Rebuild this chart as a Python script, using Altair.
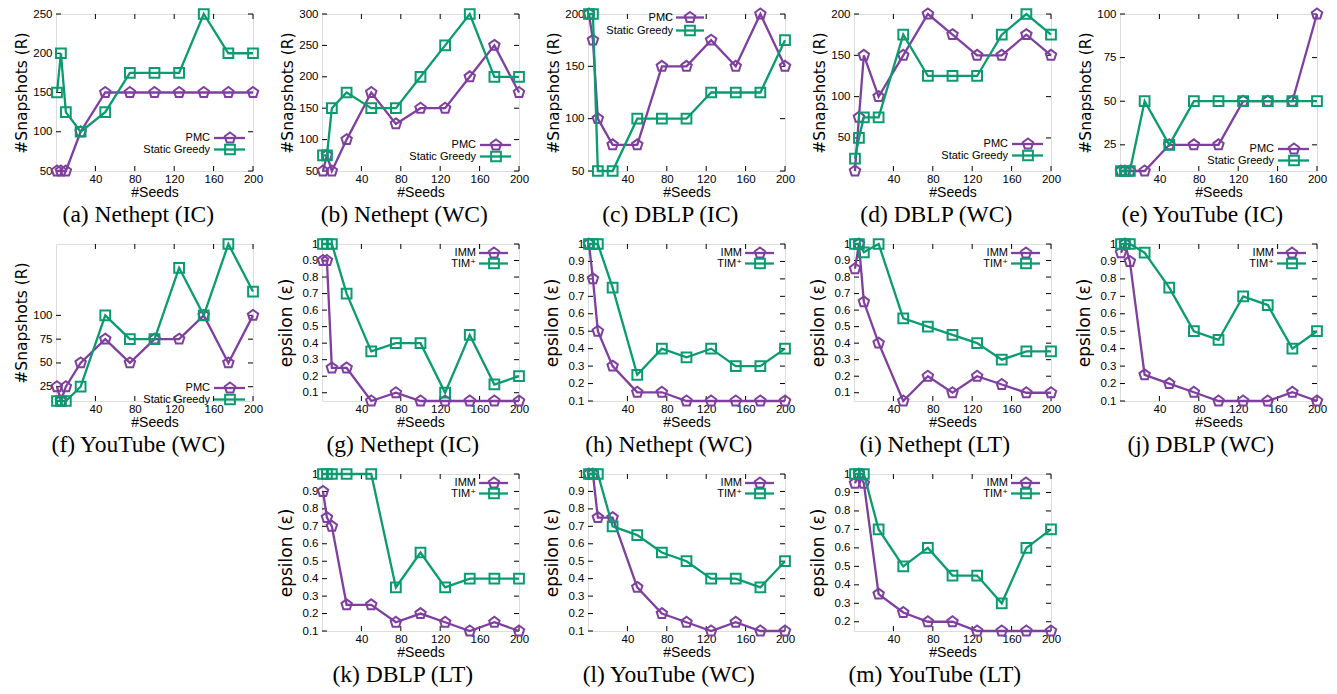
import altair as alt
import pandas as pd

# Seed counts on the x axis of every panel
seeds = [1, 5, 10, 25, 50, 75, 100, 125, 150, 175, 200]
seed_ticks = [40, 80, 120, 160, 200]

# Number of snapshots (R): PMC vs Static Greedy
pmc_a = [50, 50, 50, 100, 150, 150, 150, 150, 150, 150, 150]
sg_a = [150, 200, 125, 100, 125, 175, 175, 175, 250, 200, 200]
pmc_b = [50, 75, 50, 100, 175, 125, 150, 150, 200, 250, 175]
sg_b = [75, 75, 150, 175, 150, 150, 200, 250, 300, 200, 200]
pmc_c = [200, 175, 100, 75, 75, 150, 150, 175, 150, 200, 150]
sg_c = [200, 200, 50, 50, 100, 100, 100, 125, 125, 125, 175]
pmc_d = [10, 75, 150, 100, 150, 200, 175, 150, 150, 175, 150]
sg_d = [25, 50, 75, 75, 175, 125, 125, 125, 175, 200, 175]
pmc_e = [10, 10, 10, 10, 25, 25, 25, 50, 50, 50, 100]
sg_e = [10, 10, 10, 50, 25, 50, 50, 50, 50, 50, 50]
pmc_f = [25, 10, 25, 50, 75, 50, 75, 75, 100, 50, 100]
sg_f = [10, 10, 10, 25, 100, 75, 75, 150, 100, 175, 125]

# Epsilon: IMM vs TIM+
imm_g = [0.9, 0.9, 0.25, 0.25, 0.05, 0.1, 0.05, 0.05, 0.05, 0.05, 0.05]
tim_g = [1, 1, 1, 0.7, 0.35, 0.4, 0.4, 0.1, 0.45, 0.15, 0.2]
imm_h = [1, 0.8, 0.5, 0.3, 0.15, 0.15, 0.1, 0.1, 0.1, 0.1, 0.1]
tim_h = [1, 1, 1, 0.75, 0.25, 0.4, 0.35, 0.4, 0.3, 0.3, 0.4]
imm_i = [0.85, 1, 0.65, 0.4, 0.05, 0.2, 0.1, 0.2, 0.15, 0.1, 0.1]
tim_i = [1, 1, 0.95, 1, 0.55, 0.5, 0.45, 0.4, 0.3, 0.35, 0.35]
imm_j = [0.95, 1, 0.9, 0.25, 0.2, 0.15, 0.1, 0.1, 0.1, 0.15, 0.1]
tim_j = [1, 1, 1, 0.95, 0.75, 0.5, 0.45, 0.7, 0.65, 0.4, 0.5]
imm_k = [0.9, 0.75, 0.7, 0.25, 0.25, 0.15, 0.2, 0.15, 0.1, 0.15, 0.1]
tim_k = [1, 1, 1, 1, 1, 0.35, 0.55, 0.35, 0.4, 0.4, 0.4]
imm_l = [1, 1, 0.75, 0.75, 0.35, 0.2, 0.15, 0.1, 0.15, 0.1, 0.1]
tim_l = [1, 1, 1, 0.7, 0.65, 0.55, 0.5, 0.4, 0.4, 0.35, 0.5]
imm_m = [0.95, 1, 0.95, 0.35, 0.25, 0.2, 0.2, 0.15, 0.15, 0.15, 0.15]
tim_m = [1, 1, 1, 0.7, 0.5, 0.6, 0.45, 0.45, 0.3, 0.6, 0.7]

snap_names = ["PMC", "Static Greedy"]
eps_names = ["IMM", "TIM\u207a"]
eps_ticks = [0.1, 0.2, 0.3, 0.4, 0.5, 0.6, 0.7, 0.8, 0.9, 1.0]

PURPLE = "#7f3f9f"
GREEN = "#0a9b6f"
PENTAGON = "M0,-1L0.951,-0.309L0.588,0.809L-0.588,0.809L-0.951,-0.309Z"
W, H = 197, 157
SANS = "Liberation Sans, DejaVu Sans"
one = pd.DataFrame({"k": [0]})


def series(values, color, shape, size, x, y):
    df = pd.DataFrame({"seeds": seeds, "value": values})
    base = alt.Chart(df).encode(x=x, y=y)
    line = base.mark_line(color=color, strokeWidth=2.3, clip=False)
    pts = base.mark_point(shape=shape, color=color, filled=False, size=size,
                          strokeWidth=2, opacity=1, clip=False)
    return [line, pts]


def inner_ticks(yticks, x, y):
    yt = pd.DataFrame({"value": yticks})
    xt = pd.DataFrame({"seeds": seed_ticks})
    L = 5
    rule = dict(color="black", strokeWidth=1)
    return [
        alt.Chart(yt).mark_rule(**rule).encode(y=y, x=alt.value(0), x2=alt.value(L)),
        alt.Chart(yt).mark_rule(**rule).encode(y=y, x=alt.value(W - L), x2=alt.value(W)),
        alt.Chart(xt).mark_rule(**rule).encode(x=x, y=alt.value(H - L), y2=alt.value(H)),
        alt.Chart(xt).mark_rule(**rule).encode(x=x, y=alt.value(0), y2=alt.value(L)),
    ]


def key(names, tx, lx1, lx2, mx, ys):
    layers = []
    for name, color, shape, size, yy in zip(names, [PURPLE, GREEN],
                                            [PENTAGON, "square"], [120, 95], ys):
        layers.append(alt.Chart(one).mark_text(align="right", baseline="middle", font=SANS,
                                               fontSize=11, color="black")
                      .encode(x=alt.value(tx), y=alt.value(yy), text=alt.value(name)))
        layers.append(alt.Chart(one).mark_rule(color=color, strokeWidth=2.3)
                      .encode(x=alt.value(lx1), x2=alt.value(lx2), y=alt.value(yy)))
        layers.append(alt.Chart(one).mark_point(shape=shape, color=color, filled=False,
                                                size=size, strokeWidth=2, opacity=1)
                      .encode(x=alt.value(mx), y=alt.value(yy)))
    return layers


def key_bottom_right(names, dy):
    return key(names, W - 43, W - 39, W - 8, W - 23, [H - dy, H - dy + 11.5])


def key_top_right(names):
    return key(names, W - 43, W - 40, W - 11, W - 25, [9, 19.5])


def panel(caption, ytitle, names, v1, v2, ydom, yticks, legend, fmt):
    x = alt.X("seeds:Q", scale=alt.Scale(domain=[0, 200], nice=False, zero=False),
              axis=alt.Axis(values=seed_ticks, title="#Seeds", grid=False, domain=False,
                            ticks=False, labelPadding=2, labelFont=SANS, labelFontSize=11.5,
                            labelColor="black", titleFont=SANS, titleFontSize=14,
                            titleFontWeight="normal", titleColor="black", titlePadding=1,
                            labelFlush=False, labelOverlap=False))
    y = alt.Y("value:Q", scale=alt.Scale(domain=ydom, nice=False, zero=False),
              axis=alt.Axis(values=yticks, title=ytitle, format=fmt, grid=False,
                            domain=False, ticks=False, labelPadding=4, labelFont=SANS,
                            labelFontSize=11.5, labelColor="black", minExtent=24,
                            maxExtent=24, titlePadding=3, titleFont="DejaVu Sans",
                            titleFontSize=15.5 if ytitle.startswith("#") else 17,
                            titleFontWeight="normal", titleColor="black",
                            labelFlush=False, labelOverlap=False))
    layers = inner_ticks(yticks, x, y)
    layers += series(v1, PURPLE, PENTAGON, 120, x, y)
    layers += series(v2, GREEN, "square", 95, x, y)
    layers += legend
    return alt.layer(*layers).properties(
        width=W, height=H,
        title=alt.TitleParams(caption, orient="bottom", anchor="middle", frame="bounds",
                              font="Liberation Serif", fontSize=23.5, fontWeight="normal",
                              color="black", offset=3),
    )


snap = "#Snapshots (R)"
eps = "epsilon (\u03b5)"
SF, EF = "d", "~r"

pa = panel("(a) Nethept (IC)", snap, snap_names, pmc_a, sg_a, [50, 250],
           [50, 100, 150, 200, 250], key_bottom_right(snap_names, 33), SF)
pb = panel("(b) Nethept (WC)", snap, snap_names, pmc_b, sg_b, [50, 300],
           [50, 100, 150, 200, 250, 300], key_bottom_right(snap_names, 26), SF)
pc = panel("(c) DBLP (IC)", snap, snap_names, pmc_c, sg_c, [50, 200],
           [50, 100, 150, 200], key(snap_names, 85, 88, 116, 102, [3.5, 16.5]), SF)
pd_ = panel("(d) DBLP (WC)", snap, snap_names, pmc_d, sg_d, [10, 200],
            [50, 100, 150, 200], key_bottom_right(snap_names, 27), SF)
pe = panel("(e) YouTube (IC)", snap, snap_names, pmc_e, sg_e, [10, 100],
           [25, 50, 75, 100], key_bottom_right(snap_names, 22), SF)
pf = panel("(f) YouTube (WC)", snap, snap_names, pmc_f, sg_f, [10, 175],
           [25, 50, 75, 100], key_bottom_right(snap_names, 13), SF)
pg = panel("(g) Nethept (IC)", eps, eps_names, imm_g, tim_g, [0.05, 1],
           eps_ticks, key_top_right(eps_names), EF)
ph = panel("(h) Nethept (WC)", eps, eps_names, imm_h, tim_h, [0.1, 1],
           eps_ticks, key_top_right(eps_names), EF)
pi = panel("(i) Nethept (LT)", eps, eps_names, imm_i, tim_i, [0.05, 1],
           eps_ticks, key_top_right(eps_names), EF)
pj = panel("(j) DBLP (WC)", eps, eps_names, imm_j, tim_j, [0.1, 1],
           eps_ticks, key_top_right(eps_names), EF)
pk = panel("(k) DBLP (LT)", eps, eps_names, imm_k, tim_k, [0.1, 1],
           eps_ticks, key_top_right(eps_names), EF)
pl = panel("(l) YouTube (WC)", eps, eps_names, imm_l, tim_l, [0.1, 1],
           eps_ticks, key_top_right(eps_names), EF)
pm = panel("(m) YouTube (LT)", eps, eps_names, imm_m, tim_m, [0.15, 1],
           eps_ticks[1:], key_top_right(eps_names), EF)

# empty cell so the last row starts in the second column
spacer = alt.Chart(one).mark_point(opacity=0).encode(
    x=alt.value(0), y=alt.value(0)
).properties(width=W, height=H, view=alt.ViewBackground(stroke="transparent"))

GAP_X, GAP_Y = 69, 73
chart = alt.concat(
    pa, pb, pc, pd_, pe, pf, pg, ph, pi, pj, spacer, pk, pl, pm,
    columns=5, spacing={"row": GAP_Y, "column": GAP_X}, bounds="flush",
).properties(
    padding={"left": 13, "top": 4, "right": 5, "bottom": 2}
).configure_view(stroke="black", strokeWidth=1).configure(background="white")

chart.save("out.html", embed_options={"renderer": "svg", "actions": False})
